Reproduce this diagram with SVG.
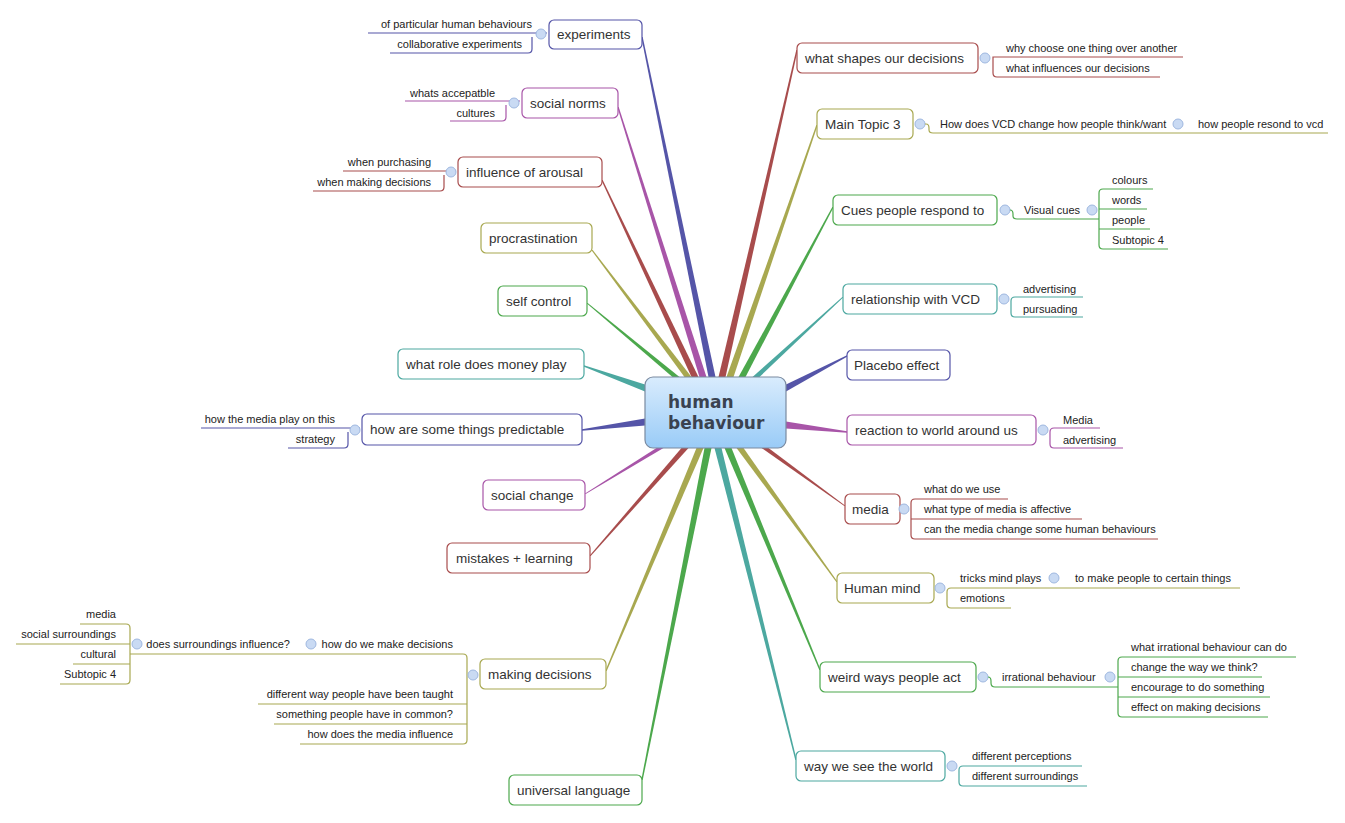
<svg xmlns="http://www.w3.org/2000/svg" width="1345" height="823" viewBox="0 0 1345 823">
<defs>
<linearGradient id="cg" x1="0" y1="0" x2="0" y2="1"><stop offset="0" stop-color="#d9ecfd"/><stop offset="1" stop-color="#99cbf7"/></linearGradient>
<style>
.n{fill:#fff;stroke-width:1.2}
.t{font-family:"Liberation Sans",Arial,sans-serif;font-size:13.5px;fill:#333}
.s{font-family:"Liberation Sans",Arial,sans-serif;font-size:11px;fill:#222}
.r{text-anchor:end}
.l{fill:none;stroke-width:1.2}
.c{fill:#c9daf3;stroke:#9fb8e0;stroke-width:1}
.red{stroke:#a84c4c}.ol{stroke:#a8a850}.gr{stroke:#4ca84c}.te{stroke:#4ca8a0}.nv{stroke:#5555a8}.pu{stroke:#a855a8}
.fred{fill:#a84c4c}.fol{fill:#a8a850}.fgr{fill:#4ca84c}.fte{fill:#4ca8a0}.fnv{fill:#5555a8}.fpu{fill:#a855a8}
</style>
</defs>
<rect width="1345" height="823" fill="#fff"/>
<g id="connectors">
<polygon class="fnv" points="708.5,377 715.5,377 642.7,37 641.3,37"/>
<polygon class="fpu" points="699.5,377 706.5,377 618.7,107 617.3,107"/>
<polygon class="fred" points="691.5,377 698.5,377 602.7,180 601.3,180"/>
<polygon class="fol" points="684.5,377 691.5,377 592.7,250 591.3,250"/>
<polygon class="fgr" points="672.5,377 679.5,377 587.7,303 586.3,303"/>
<polygon class="fte" points="645,384.5 645,391.5 584,366.7 584,365.3"/>
<polygon class="fnv" points="645,418.5 645,425.5 582,430.7 582,429.3"/>
<polygon class="fpu" points="656.5,448 663.5,448 585.7,494 584.3,494"/>
<polygon class="fred" points="681.5,448 688.5,448 590.7,556 589.3,556"/>
<polygon class="fol" points="696.5,448 703.5,448 606.7,671 605.3,671"/>
<polygon class="fgr" points="704.5,448 711.5,448 642.7,780 641.3,780"/>
<polygon class="fred" points="718.5,377 725.5,377 797.7,50 796.3,50"/>
<polygon class="fol" points="726.5,377 733.5,377 817.7,125 816.3,125"/>
<polygon class="fgr" points="738.5,377 745.5,377 833.7,207 832.3,207"/>
<polygon class="fte" points="752.5,377 759.5,377 843.7,297 842.3,297"/>
<polygon class="fnv" points="786,384.5 786,391.5 847,356.7 847,355.3"/>
<polygon class="fpu" points="786,421.5 786,428.5 847,432.7 847,431.3"/>
<polygon class="fred" points="761.5,448 768.5,448 845.7,506 844.3,506"/>
<polygon class="fol" points="736.5,448 743.5,448 837.7,582 836.3,582"/>
<polygon class="fgr" points="724.5,448 731.5,448 820.7,670 819.3,670"/>
<polygon class="fte" points="714.5,448 721.5,448 796.7,760 795.3,760"/>
</g>
<g id="center">
<rect x="645" y="377" width="141" height="71" rx="8" fill="url(#cg)" stroke="#7a8aa0" stroke-width="1.2"/>
<text x="668" y="408" font-family="'DejaVu Sans',sans-serif" font-weight="bold" font-size="17" fill="#3a4250">human</text>
<text x="668" y="429" font-family="'DejaVu Sans',sans-serif" font-weight="bold" font-size="17" fill="#3a4250">behaviour</text>
</g>
<g id="experiments">
<rect class="n nv" x="549" y="20" width="93" height="29" rx="5"/><text class="t" x="557" y="39">experiments</text>
<path class="l nv" d="M368,33 H547 M390,53 H528 Q532,53 532,49 V37"/><circle class="c" cx="541" cy="34" r="5"/>
<text class="s r" x="532" y="28">of particular human behaviours</text><text class="s r" x="522" y="48">collaborative experiments</text>
</g>
<g id="social-norms">
<rect class="n pu" x="522" y="88" width="96" height="30" rx="5"/><text class="t" x="530" y="108">social norms</text>
<path class="l pu" d="M405,101 H520 M450,121 H502 Q506,121 506,117 V105"/><circle class="c" cx="514" cy="103" r="5"/>
<text class="s r" x="495" y="97">whats accepatble</text><text class="s r" x="495" y="117">cultures</text>
</g>
<g id="arousal">
<rect class="n red" x="458" y="157" width="144" height="30" rx="5"/><text class="t" x="466" y="177">influence of arousal</text>
<path class="l red" d="M343,171 H456 M313,191 H440 Q444,191 444,187 V175"/><circle class="c" cx="451" cy="172" r="5"/>
<text class="s r" x="431" y="166">when purchasing</text><text class="s r" x="431" y="186">when making decisions</text>
</g>
<g id="procrastination"><rect class="n ol" x="481" y="223" width="111" height="30" rx="5"/><text class="t" x="489" y="243">procrastination</text></g>
<g id="self-control"><rect class="n gr" x="498" y="286" width="89" height="30" rx="5"/><text class="t" x="506" y="306">self control</text></g>
<g id="money"><rect class="n te" x="398" y="349" width="186" height="30" rx="5"/><text class="t" x="406" y="369">what role does money play</text></g>
<g id="predictable">
<rect class="n nv" x="362" y="414" width="220" height="31" rx="5"/><text class="t" x="370" y="434">how are some things predictable</text>
<path class="l nv" d="M201,428 H360 M288,448 H344 Q348,448 348,444 V432"/><circle class="c" cx="355" cy="430" r="5"/>
<text class="s r" x="335" y="423">how the media play on this</text><text class="s r" x="335" y="443">strategy</text>
</g>
<g id="social-change"><rect class="n pu" x="483" y="480" width="102" height="30" rx="5"/><text class="t" x="491" y="500">social change</text></g>
<g id="mistakes"><rect class="n red" x="447" y="543" width="143" height="30" rx="5"/><text class="t" x="456" y="563">mistakes + learning</text></g>
<g id="making-decisions">
<rect class="n ol" x="480" y="659" width="126" height="30" rx="5"/><text class="t" x="488" y="679">making decisions</text>
<path class="l ol" d="M478,674 H473 M130,654 H463 Q467,654 467,658 V740 Q467,744 463,744 H300 M258,704 H467 M274,724 H467"/>
<circle class="c" cx="473" cy="675" r="5"/>
<text class="s r" x="453" y="648">how do we make decisions</text>
<circle class="c" cx="311" cy="644" r="5"/>
<text class="s r" x="290" y="648">does surroundings influence?</text>
<circle class="c" cx="137" cy="644" r="5"/>
<path class="l ol" d="M80,624 H126 Q130,624 130,628 V680 Q130,684 126,684 H60 M16,644 H130 M73,664 H130"/>
<text class="s r" x="116" y="618">media</text><text class="s r" x="116" y="638">social surroundings</text><text class="s r" x="116" y="658">cultural</text><text class="s r" x="116" y="678">Subtopic 4</text>
<text class="s r" x="453" y="698">different way people have been taught</text><text class="s r" x="453" y="718">something people have in common?</text><text class="s r" x="453" y="738">how does the media influence</text>
</g>
<g id="universal-language"><rect class="n gr" x="509" y="775" width="133" height="30" rx="5"/><text class="t" x="517" y="795">universal language</text></g>
<g id="what-shapes">
<rect class="n red" x="797" y="43" width="181" height="30" rx="5"/><text class="t" x="805" y="63">what shapes our decisions</text>
<circle class="c" cx="985" cy="58" r="5"/>
<path class="l red" d="M1183,57 H993 V73 Q993,77 997,77 H1160"/>
<text class="s" x="1006" y="52">why choose one thing over another</text><text class="s" x="1006" y="72">what influences our decisions</text>
</g>
<g id="main-topic-3">
<rect class="n ol" x="817" y="109" width="96" height="30" rx="5"/><text class="t" x="825" y="129">Main Topic 3</text>
<circle class="c" cx="920" cy="124" r="5"/>
<path class="l ol" d="M925,124 H926 Q929,124 929,128 V130 Q929,133 933,133 H1328"/>
<text class="s" x="940" y="128">How does VCD change how people think/want</text>
<circle class="c" cx="1178" cy="124" r="5"/>
<text class="s" x="1198" y="128">how people resond to vcd</text>
</g>
<g id="cues">
<rect class="n gr" x="833" y="195" width="164" height="30" rx="5"/><text class="t" x="841" y="215">Cues people respond to</text>
<circle class="c" cx="1005" cy="210" r="5"/>
<path class="l gr" d="M1010,210 Q1013,210 1013,214 V216 Q1013,219 1017,219 H1099 M1153,189 H1103 Q1099,189 1099,193 V245 Q1099,249 1103,249 H1168 M1099,209 H1147 M1099,229 H1150"/>
<text class="s" x="1024" y="214">Visual cues</text>
<circle class="c" cx="1092" cy="210" r="5"/>
<text class="s" x="1112" y="184">colours</text><text class="s" x="1112" y="204">words</text><text class="s" x="1112" y="224">people</text><text class="s" x="1112" y="244">Subtopic 4</text>
</g>
<g id="relationship">
<rect class="n te" x="843" y="284" width="154" height="30" rx="5"/><text class="t" x="851" y="304">relationship with VCD</text>
<circle class="c" cx="1004" cy="299" r="5"/>
<path class="l te" d="M1083,297 H1015 Q1011,297 1011,301 V313 Q1011,317 1015,317 H1083"/>
<text class="s" x="1023" y="293">advertising</text><text class="s" x="1023" y="313">pursuading</text>
</g>
<g id="placebo"><rect class="n nv" x="847" y="350" width="103" height="30" rx="5"/><text class="t" x="854" y="370">Placebo effect</text></g>
<g id="reaction">
<rect class="n pu" x="847" y="415" width="189" height="30" rx="5"/><text class="t" x="855" y="435">reaction to world around us</text>
<circle class="c" cx="1043" cy="430" r="5"/>
<path class="l pu" d="M1100,428 H1054 Q1050,428 1050,432 V444 Q1050,448 1054,448 H1123"/>
<text class="s" x="1063" y="424">Media</text><text class="s" x="1063" y="444">advertising</text>
</g>
<g id="media">
<rect class="n red" x="845" y="494" width="55" height="30" rx="5"/><text class="t" x="852" y="514">media</text>
<circle class="c" cx="904" cy="509" r="5"/>
<path class="l red" d="M1008,499 H915 Q911,499 911,503 V535 Q911,539 915,539 H1158 M911,519 H1082"/>
<text class="s" x="924" y="493">what do we use</text><text class="s" x="924" y="513">what type of media is affective</text><text class="s" x="924" y="533">can the media change some human behaviours</text>
</g>
<g id="human-mind">
<rect class="n ol" x="837" y="573" width="97" height="30" rx="5"/><text class="t" x="844" y="593">Human mind</text>
<circle class="c" cx="940" cy="588" r="5"/>
<path class="l ol" d="M1240,588 H951 Q947,588 947,592 V604 Q947,608 951,608 H1011"/>
<text class="s" x="960" y="582">tricks mind plays</text><circle class="c" cx="1054" cy="578" r="5"/>
<text class="s" x="1075" y="582">to make people to certain things</text><text class="s" x="960" y="602">emotions</text>
</g>
<g id="weird-ways">
<rect class="n gr" x="820" y="662" width="156" height="30" rx="5"/><text class="t" x="828" y="682">weird ways people act</text>
<circle class="c" cx="983" cy="677" r="5"/>
<path class="l gr" d="M988,677 Q991,677 991,681 V683 Q991,687 995,687 H1118 M1296,657 H1122 Q1118,657 1118,661 V713 Q1118,717 1122,717 H1268 M1118,677 H1262 M1118,697 H1270"/>
<text class="s" x="1002" y="681">irrational behaviour</text><circle class="c" cx="1110" cy="677" r="5"/>
<text class="s" x="1131" y="651">what irrational behaviour can do</text><text class="s" x="1131" y="671">change the way we think?</text><text class="s" x="1131" y="691">encourage to do something</text><text class="s" x="1131" y="711">effect on making decisions</text>
</g>
<g id="way-we-see">
<rect class="n te" x="796" y="751" width="149" height="30" rx="5"/><text class="t" x="804" y="771">way we see the world</text>
<circle class="c" cx="952" cy="766" r="5"/>
<path class="l te" d="M1082,766 H963 Q959,766 959,770 V782 Q959,786 963,786 H1087"/>
<text class="s" x="972" y="760">different perceptions</text><text class="s" x="972" y="780">different surroundings</text>
</g>
</svg>
